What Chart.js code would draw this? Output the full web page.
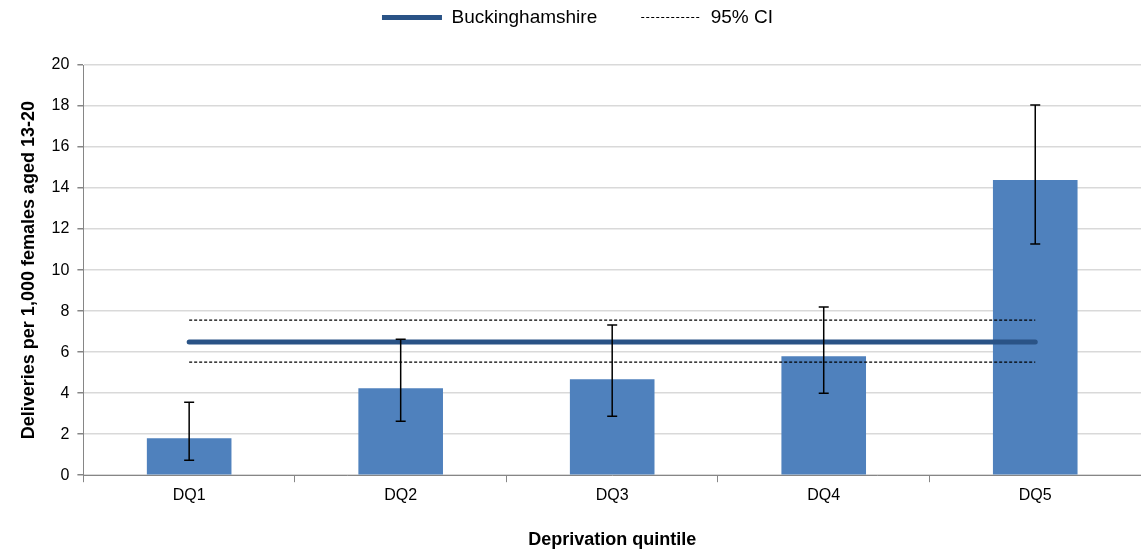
<!DOCTYPE html>
<html>
<head>
<meta charset="utf-8">
<script src="https://cdn.jsdelivr.net/npm/chart.js@4.4.0/dist/chart.umd.min.js"></script>
<style>
  html, body { margin: 0; padding: 0; background: #fff; }
  #wrap { width: 1141px; height: 551px; }
</style>
</head>
<body>
<div id="wrap"><canvas id="myChart"></canvas></div>
<script>
const quintiles = ["DQ1", "DQ2", "DQ3", "DQ4", "DQ5"];
const rates = [1.80, 4.24, 4.68, 5.80, 14.39];
const ciLow = [0.73, 2.63, 2.88, 4.00, 11.27];
const ciHigh = [3.56, 6.63, 7.32, 8.20, 18.05];
const bucksRate = 6.49;
const bucksLow = 5.51;
const bucksHigh = 7.56;
const yTicks = [0, 2, 4, 6, 8, 10, 12, 14, 16, 18, 20];

Chart.defaults.font.family = "'Liberation Sans', Arial, sans-serif";
Chart.defaults.color = '#000';

// error bars drawn from ciLow / ciHigh via the y scale
const errorBars = {
  id: 'errorBars',
  afterDatasetsDraw(chart) {
    const ctx = chart.ctx;
    const y = chart.scales.y;
    const meta = chart.getDatasetMeta(3);
    ctx.save();
    ctx.strokeStyle = '#000';
    ctx.lineWidth = 1.5;
    meta.data.forEach((bar, i) => {
      const x = bar.x;
      const top = y.getPixelForValue(ciHigh[i]);
      const bot = y.getPixelForValue(ciLow[i]);
      ctx.beginPath();
      ctx.moveTo(x, top); ctx.lineTo(x, bot);
      ctx.moveTo(x - 5, top); ctx.lineTo(x + 5, top);
      ctx.moveTo(x - 5, bot); ctx.lineTo(x + 5, bot);
      ctx.stroke();
    });
    ctx.restore();
  }
};

// extra room under the legend
const legendGap = {
  id: 'legendGap',
  beforeInit(chart) {
    const fit = chart.legend.fit;
    chart.legend.fit = function () {
      fit.bind(chart.legend)();
      this.height += 28;
    };
  }
};

const ctx = document.getElementById("myChart").getContext('2d');
const myChart = new Chart(ctx, {
  type: 'bar',
  data: {
    labels: quintiles,
    datasets: [
      {
        type: 'line',
        label: 'Buckinghamshire',
        data: quintiles.map(() => bucksRate),
        borderColor: '#2A5386',
        borderWidth: 5,
        borderCapStyle: 'round',
        pointRadius: 0,
        order: 0
      },
      {
        type: 'line',
        label: '95% CI',
        data: quintiles.map(() => bucksHigh),
        borderColor: '#000',
        borderWidth: 1.2,
        borderDash: [3, 2],
        pointRadius: 0,
        order: 1
      },
      {
        type: 'line',
        label: '95% CI low',
        data: quintiles.map(() => bucksLow),
        borderColor: '#000',
        borderWidth: 1.2,
        borderDash: [3, 2],
        pointRadius: 0,
        order: 1
      },
      {
        label: 'Rate',
        data: rates,
        backgroundColor: '#4F81BD',
        borderWidth: 0,
        barPercentage: 0.4,
        categoryPercentage: 1.0,
        order: 2
      }
    ]
  },
  options: {
    responsive: true,
    maintainAspectRatio: false,
    animation: false,
    layout: { padding: { left: 14, right: 0, top: -36, bottom: 0 } },
    plugins: {
      legend: {
        display: true,
        position: 'top',
        labels: {
          usePointStyle: true,
          pointStyle: 'line',
          pointStyleWidth: 60,
          boxWidth: 60,
          boxHeight: 8,
          padding: 44,
          font: { size: 19 },
          generateLabels: chart => {
            const items = Chart.defaults.plugins.legend.labels.generateLabels(chart);
            return items
              .filter(it => it.text === 'Buckinghamshire' || it.text === '95% CI')
              .map(it => {
                const ds = chart.data.datasets[it.datasetIndex];
                it.lineDash = ds.borderDash || [];
                it.lineWidth = ds.borderWidth;
                return it;
              });
          }
        }
      },
      tooltip: { enabled: false }
    },
    scales: {
      x: {
        grid: { drawOnChartArea: false, color: '#868686', tickLength: 7 },
        border: { color: '#868686' },
        ticks: { font: { size: 16 }, padding: 4 },
        title: {
          display: true,
          text: 'Deprivation quintile',
          font: { size: 18, weight: 'bold' },
          padding: { top: 20, bottom: 0 }
        }
      },
      y: {
        min: 0,
        max: 20,
        afterBuildTicks: axis => { axis.ticks = yTicks.map(v => ({ value: v })); },
        grid: { color: '#d9d9d9', lineWidth: 1.5, tickLength: 6, tickColor: '#868686' },
        border: { color: '#868686' },
        ticks: { font: { size: 16 }, padding: 8 },
        title: {
          display: true,
          text: 'Deliveries per 1,000 females aged 13-20',
          font: { size: 18, weight: 'bold' },
          padding: { bottom: 4 }
        }
      }
    }
  },
  plugins: [errorBars, legendGap]
});
</script>
</body>
</html>
